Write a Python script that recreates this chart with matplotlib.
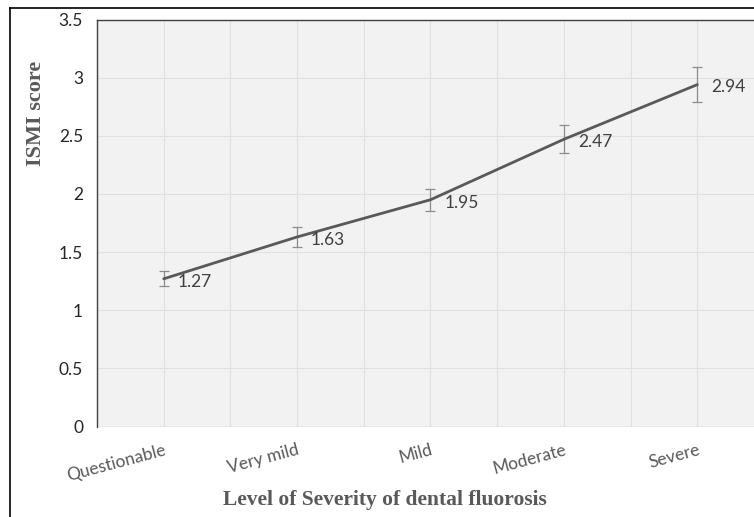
import matplotlib
matplotlib.use("Agg")
import matplotlib.pyplot as plt
from matplotlib.lines import Line2D
import numpy as np

categories = ["Questionable", "Very mild", "Mild", "Moderate", "Severe"]
scores = [1.27, 1.63, 1.95, 2.47, 2.94]
errors = [0.065, 0.085, 0.095, 0.12, 0.15]
y_ticks = [0, 0.5, 1, 1.5, 2, 2.5, 3, 3.5]
y_tick_labels = ["0", "0.5", "1", "1.5", "2", "2.5", "3", "3.5"]

W, H = 754, 517
fig = plt.figure(figsize=(W / 100, H / 100), dpi=100)
fig.patch.set_facecolor("white")

# outer frame (cropped at right and bottom)
fig.add_artist(Line2D([10 / W, 1.0], [1 - 7.5 / H, 1 - 7.5 / H], color="black", lw=1.2, transform=fig.transFigure))
fig.add_artist(Line2D([10 / W, 10 / W], [0, 1 - 7.5 / H], color="black", lw=1.2, transform=fig.transFigure))

left = 97 / W
bottom = (H - 426.5) / H
width = (764 - 97) / W
height = (426.5 - 19.5) / H
ax = fig.add_axes([left, bottom, width, height])
ax.set_facecolor("#f2f2f2")

x = np.arange(len(categories))
ax.set_xlim(-0.5, len(categories) - 0.5)
ax.set_ylim(0, 3.5)

# grid
for gx in np.arange(-0.5, len(categories) - 0.5 + 0.01, 0.5):
    ax.axvline(gx, color="#e0e0e0", lw=0.8, zorder=0)
for gy in y_ticks:
    ax.axhline(gy, color="#e0e0e0", lw=0.8, zorder=0)

ax.errorbar(x, scores, yerr=errors, fmt="none", ecolor="#8c8c8c", elinewidth=0.9,
            capsize=3.5, capthick=0.9, zorder=2)
ax.plot(x, scores, color="#595959", lw=2.0, zorder=3, solid_capstyle="round")

for xi, v in zip(x, scores):
    ax.annotate(f"{v:.2f}", (xi, v), xytext=(10, -2), textcoords="offset points",
                ha="left", va="center", fontsize=12.5, color="#404040", family="Lato")

for side in ["right", "bottom"]:
    ax.spines[side].set_visible(False)
ax.spines["top"].set_color("#404040")
ax.spines["left"].set_color("#404040")
ax.spines["top"].set_linewidth(1.0)
ax.spines["left"].set_linewidth(1.0)
ax.axhline(0, color="#d0d0d0", lw=1.0, zorder=1)

ax.set_yticks(y_ticks)
ax.set_yticklabels(y_tick_labels, fontsize=12.5, color="#262626", family="Lato")
ax.tick_params(axis="y", length=0, pad=10)

ax.set_xticks(x)
ax.set_xticklabels(categories, fontsize=12.5, color="#595959", family="Lato",
                   rotation=15, ha="right", va="top", rotation_mode="anchor")
ax.tick_params(axis="x", length=0, pad=11)

ax.set_ylabel("ISMI score", fontsize=16, fontweight="bold", color="#595959", family="Liberation Serif")
ax.yaxis.set_label_coords(-0.077, 0.77)
ax.set_xlabel("Level of Severity of dental fluorosis", fontsize=15.5, fontweight="bold",
              color="#595959", family="Liberation Serif")
ax.xaxis.set_label_coords(0.432, -0.155)

fig.savefig("out.png", dpi=100)
